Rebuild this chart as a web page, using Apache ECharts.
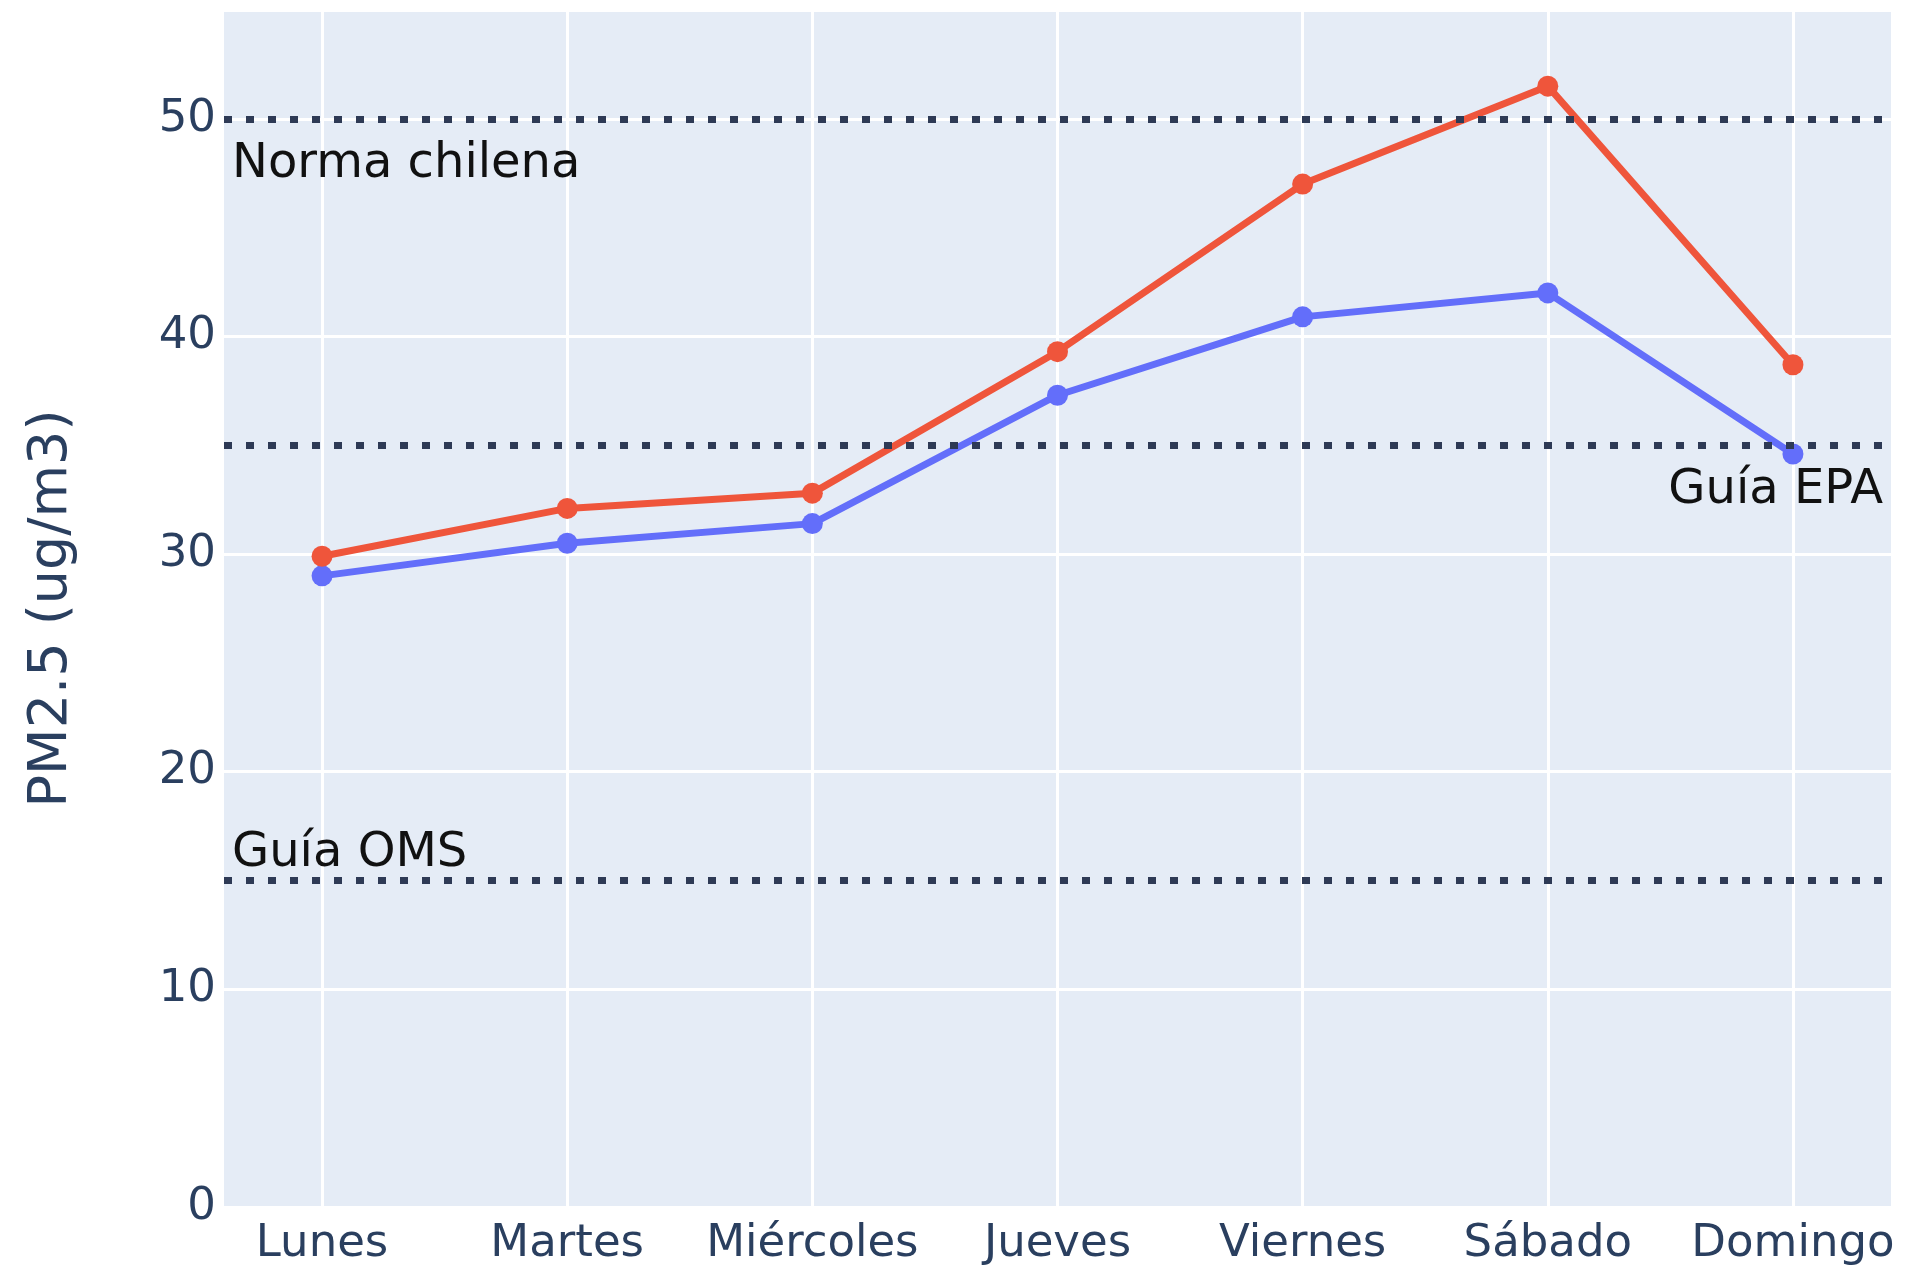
<!DOCTYPE html>
<html>
<head>
<meta charset="utf-8">
<script src="https://cdn.jsdelivr.net/npm/echarts@6/dist/echarts.min.js"></script>
<style>
  html, body { margin: 0; padding: 0; background: #ffffff; }
  #chart { width: 1932px; height: 1267px; }
</style>
</head>
<body>
<div id="chart"></div>
<script>
// dias de la semana (eje x)
var dias = ['Lunes', 'Martes', 'Miércoles', 'Jueves', 'Viernes', 'Sábado', 'Domingo'];
// serie roja y serie azul, PM2.5 en ug/m3
var serieRoja = [29.9, 32.1, 32.8, 39.3, 47.0, 51.5, 38.7];
var serieAzul = [29.0, 30.5, 31.4, 37.3, 40.9, 42.0, 34.6];
// lineas de referencia
var refNombres = ['Norma chilena', 'Guía EPA', 'Guía OMS'];
var refValores = [50, 35, 15];
var refPosicion = ['insideStartBottom', 'insideEndBottom', 'insideStartTop'];
var refDistancia = [[8, 22], [8, 21], [8, 3]];
var yTicks = [0, 10, 20, 30, 40, 50];

var fuente = 'DejaVu Sans';

function pares(valores) {
  var out = [];
  for (var i = 0; i < valores.length; i++) {
    out.push([i, valores[i]]);
  }
  return out;
}

function esEntero(v) {
  return Math.abs(v - Math.round(v)) < 1e-6;
}

var lineasRef = [];
for (var i = 0; i < refValores.length; i++) {
  lineasRef.push({
    yAxis: refValores[i],
    label: {
      show: true,
      formatter: refNombres[i],
      position: refPosicion[i],
      distance: refDistancia[i]
    }
  });
}

// rejilla vertical en cada dia
var rejillaX = [];
for (var j = 0; j < dias.length; j++) {
  rejillaX.push({ xAxis: j });
}

var myChart = echarts.init(document.getElementById('chart'));
var option = {
  animation: false,
  backgroundColor: '#ffffff',
  grid: {
    left: 224,
    right: 41,
    top: 10,
    bottom: 58,
    show: true,
    backgroundColor: '#E5ECF6',
    borderWidth: 0
  },
  xAxis: {
    type: 'value',
    min: -0.4,
    max: 6.4,
    interval: 0.2,
    axisLine: { show: false },
    axisTick: { show: false },
    splitLine: { show: false },
    axisLabel: {
      showMinLabel: false,
      showMaxLabel: false,
      margin: 15,
      fontFamily: fuente,
      fontSize: 45,
      color: '#2a3f5f',
      formatter: function (v) {
        return esEntero(v) ? dias[Math.round(v)] : '';
      }
    }
  },
  yAxis: {
    type: 'value',
    min: 0,
    max: 55,
    interval: 10,
    name: 'PM2.5 (ug/m3)',
    nameLocation: 'middle',
    nameGap: 145,
    nameTextStyle: { fontFamily: fuente, fontSize: 54, color: '#2a3f5f' },
    axisLine: { show: false },
    axisTick: { show: false },
    splitLine: { show: true, lineStyle: { color: '#ffffff', width: 3 } },
    axisLabel: {
      margin: 8,
      fontFamily: fuente,
      fontSize: 45,
      color: '#2a3f5f',
      formatter: function (v) {
        return yTicks.indexOf(v) >= 0 ? String(v) : '';
      }
    }
  },
  series: [
    {
      type: 'line',
      data: [],
      z: 1,
      silent: true,
      markLine: {
        silent: true,
        z: 1,
        symbol: ['none', 'none'],
        label: { show: false },
        lineStyle: { color: '#ffffff', width: 3, type: 'solid' },
        data: rejillaX
      }
    },
    {
      type: 'line',
      data: pares(serieAzul),
      symbol: 'circle',
      symbolSize: 21,
      lineStyle: { color: '#636EFA', width: 7 },
      itemStyle: { color: '#636EFA' },
      z: 2
    },
    {
      type: 'line',
      data: pares(serieRoja),
      symbol: 'circle',
      symbolSize: 21,
      lineStyle: { color: '#EF553B', width: 7 },
      itemStyle: { color: '#EF553B' },
      z: 3,
      markLine: {
        silent: true,
        symbol: ['none', 'none'],
        lineStyle: { color: '#2e3a55', width: 7, type: [8, 14] },
        label: {
          fontFamily: fuente,
          fontSize: 48,
          color: '#111111'
        },
        data: lineasRef
      }
    }
  ]
};
myChart.setOption(option, true);
</script>
</body>
</html>
